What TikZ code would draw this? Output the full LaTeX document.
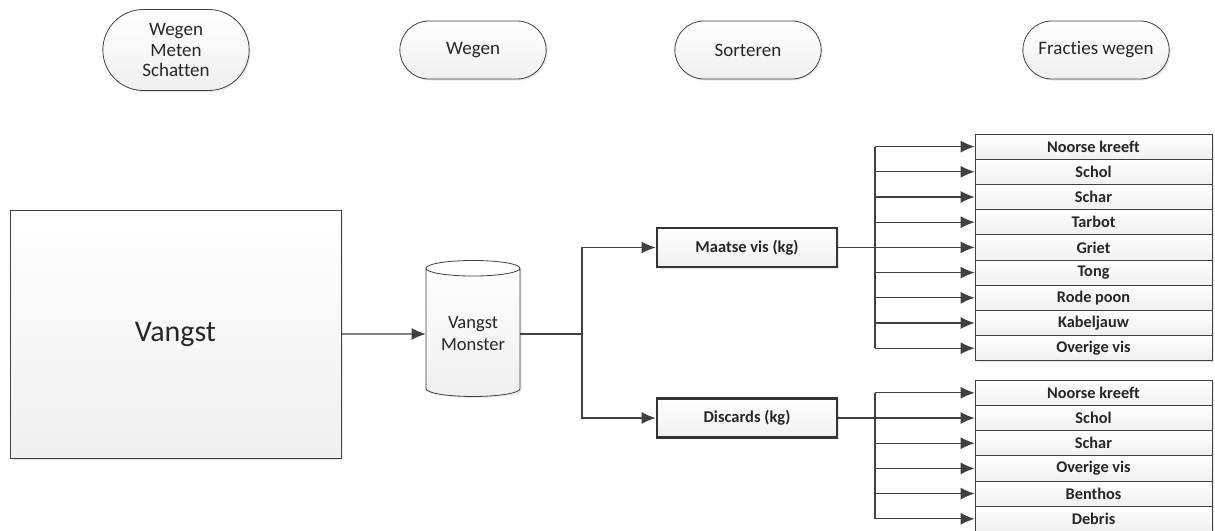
\documentclass[tikz,border=0pt]{standalone}
\usepackage{fontspec}
\setmainfont{Carlito}[Ligatures=NoCommon]
\usepackage{tikz}
\usetikzlibrary{arrows.meta}
\usetikzlibrary{shapes.geometric}
\usetikzlibrary{shapes.misc}
\usetikzlibrary{shadows}

\definecolor{lineGrey}{HTML}{404040}
\definecolor{textGrey}{HTML}{262626}

\tikzset{
    shadebox/.style={top color=white, bottom color=black!6, draw=lineGrey, text=textGrey,
        drop shadow={opacity=0.18, shadow xshift=1.5pt, shadow yshift=-1.5pt}},
    stage/.style={shadebox, rounded rectangle, line width=0.8pt, minimum width=153pt,
        minimum height=58pt, align=center, font=\fontsize{19}{20.5}\selectfont},
    catch/.style={shadebox, rectangle, line width=0.8pt, minimum width=331pt,
        minimum height=248pt, font=\fontsize{30}{32}\selectfont},
    sample/.style={shadebox, cylinder, shape border rotate=90, aspect=0.22, line width=0.8pt,
        minimum width=94pt, minimum height=136pt, align=center, font=\fontsize{18.5}{22}\selectfont},
    sortbox/.style={shadebox, rectangle, line width=2.8pt, draw=black!80, minimum width=180pt,
        minimum height=39pt, font=\bfseries\fontsize{16.5}{18}\selectfont},
    fishrow/.style={shadebox, rectangle, line width=0.7pt, minimum width=237pt,
        minimum height=25.2pt, inner sep=0pt, font=\bfseries\fontsize{16.3}{17}\selectfont},
    link/.style={draw=lineGrey, line width=1.2pt},
    arrow/.style={link, -{Latex[length=14pt, width=12pt]}}
}

\begin{document}
\begin{tikzpicture}[x=1pt, y=-1pt]
    \useasboundingbox (0,0) rectangle (1215,530);
    % stages along the top
    \node[stage, minimum height=81pt] (weging) at (176,50) {Wegen\\Meten\\Schatten};
    \node[stage] (wegen) at (473,50) {Wegen};
    \node[stage] (sorteren) at (748,50) {Sorteren};
    \node[stage] (fracties) at (1096,50) {Fracties wegen};

    \node[catch] (vangst) at (175.5,334) {Vangst};
    \node[sample] (monster) at (473,334) {Vangst\\Monster};
    \node[sortbox] (maatse) at (747,247.5) {Maatse vis (kg)};
    \node[sortbox] (discards) at (747,418) {Discards (kg)};

    \coordinate (split) at (582,334);
    \coordinate (mvbus) at (875,247.5);
    \coordinate (dcbus) at (875,418);

    \foreach \name [count=\i] in {Noorse kreeft, Schol, Schar, Tarbot, Griet, Tong, Rode poon, Kabeljauw, Overige vis}
        \node[fishrow] (mv\i) at (1093.5,{121.4+25.2*\i}) {\name};
    \foreach \name [count=\i] in {Noorse kreeft, Schol, Schar, Overige vis, Benthos, Debris}
        \node[fishrow] (dc\i) at (1093.5,{367.6+25.2*\i}) {\name};

    \draw[arrow] (vangst) -- (monster);
    \draw[link] (monster) -- (split);
    \draw[arrow] (split) |- (maatse);
    \draw[arrow] (split) |- (discards);

    \draw[link] (maatse) -- (mvbus);
    \draw[link] (mvbus |- mv1.west) -- (mvbus |- mv9.west);
    \foreach \i in {1,...,9}
        \draw[arrow] (mvbus |- mv\i.west) -- (mv\i);

    \draw[link] (discards) -- (dcbus);
    \draw[link] (dcbus |- dc1.west) -- (dcbus |- dc6.west);
    \foreach \i in {1,...,6}
        \draw[arrow] (dcbus |- dc\i.west) -- (dc\i);
\end{tikzpicture}
\end{document}
